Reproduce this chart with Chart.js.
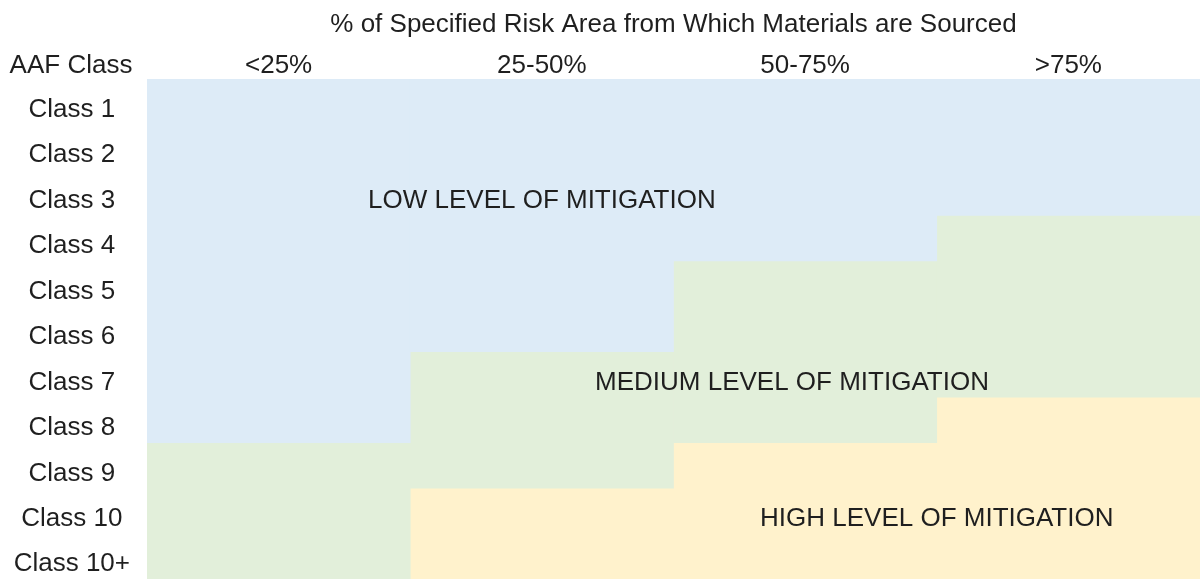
<!DOCTYPE html>
<html>
<head>
<meta charset="utf-8">
<script src="https://cdn.jsdelivr.net/npm/chart.js@4.4.1/dist/chart.umd.min.js"></script>
<style>
    body { margin: 0; background: #ffffff; }
    #wrap { width: 1200px; height: 579px; }
</style>
</head>
<body>
<div id="wrap"><canvas id="myChart"></canvas></div>

<script>
    // data
    const columns = ['<25%', '25-50%', '50-75%', '>75%'];
    const classes = ['Class 1', 'Class 2', 'Class 3', 'Class 4', 'Class 5', 'Class 6',
                     'Class 7', 'Class 8', 'Class 9', 'Class 10', 'Class 10+'];
    // number of classes falling in each mitigation level, per column (top to bottom)
    const lowCount = [8, 6, 4, 3];
    const mediumCount = [3, 3, 4, 4];
    const highCount = [0, 2, 3, 4];
    const levelNames = ['LOW LEVEL OF MITIGATION', 'MEDIUM LEVEL OF MITIGATION', 'HIGH LEVEL OF MITIGATION'];
    const levelLabelCol = [1, 1.95, 2.5];
    const levelLabelRow = ['Class 3', 'Class 7', 'Class 10'];

    const textColor = '#1f1f1f';
    const rowTextShift = 8;

    Chart.defaults.font.family = '"Liberation Sans", Arial, sans-serif';
    Chart.defaults.color = textColor;

    // draws the corner heading and the level names inside the grid
    const cellTextPlugin = {
        id: 'cellText',
        afterDatasetsDraw(chart) {
            const ctx = chart.ctx;
            const xs = chart.scales.x;
            const ys = chart.scales.yClass;
            ctx.save();
            ctx.fillStyle = textColor;
            ctx.font = '26px "Liberation Sans", Arial, sans-serif';
            ctx.textAlign = 'center';
            ctx.textBaseline = 'middle';
            levelNames.forEach((name, i) => {
                const x = xs.getPixelForValue(levelLabelCol[i]);
                const y = ys.getPixelForValue(classes.indexOf(levelLabelRow[i])) + rowTextShift;
                ctx.fillText(name, x, y);
            });
            ctx.fillText('AAF Class', ys.right - 76, xs.bottom - 13);
            ctx.restore();
        }
    };

    const ctx = document.getElementById('myChart').getContext('2d');
    const chart = new Chart(ctx, {
        type: 'bar',
        data: {
            labels: columns,
            datasets: [
                { label: 'Low', data: lowCount, backgroundColor: '#ddebf7' },
                { label: 'Medium', data: mediumCount, backgroundColor: '#e2efda' },
                { label: 'High', data: highCount, backgroundColor: '#fff2cc' }
            ]
        },
        options: {
            responsive: true,
            maintainAspectRatio: false,
            animation: false,
            layout: { padding: 0 },
            datasets: {
                bar: { barPercentage: 1, categoryPercentage: 1, borderWidth: 0 }
            },
            plugins: {
                legend: { display: false },
                tooltip: { enabled: false },
                title: {
                    display: true,
                    fullSize: false,
                    text: '% of Specified Risk Area from Which Materials are Sourced',
                    color: textColor,
                    font: { size: 26, weight: 'normal', lineHeight: '30px' },
                    padding: { top: 10, bottom: 0 }
                }
            },
            scales: {
                x: {
                    position: 'top',
                    stacked: true,
                    grid: { display: false, drawTicks: false },
                    border: { display: false },
                    ticks: { padding: 0, font: { size: 26, lineHeight: '26px' }, color: textColor },
                    afterFit(scale) { scale.height = 39; }
                },
                y: {
                    display: false,
                    stacked: true,
                    reverse: true,
                    min: 0,
                    max: classes.length
                },
                yClass: {
                    type: 'category',
                    labels: classes,
                    position: 'left',
                    offset: true,
                    grid: { display: false, drawTicks: false },
                    border: { display: false },
                    ticks: {
                        crossAlign: 'center',
                        padding: 17,
                        labelOffset: rowTextShift,
                        autoSkip: false,
                        font: { size: 26 },
                        color: textColor
                    },
                    afterFit(scale) {
                        scale.width = 147;
                        scale.paddingTop = 0;
                        scale.paddingBottom = 0;
                    }
                }
            }
        },
        plugins: [cellTextPlugin]
    });
</script>
</body>
</html>
